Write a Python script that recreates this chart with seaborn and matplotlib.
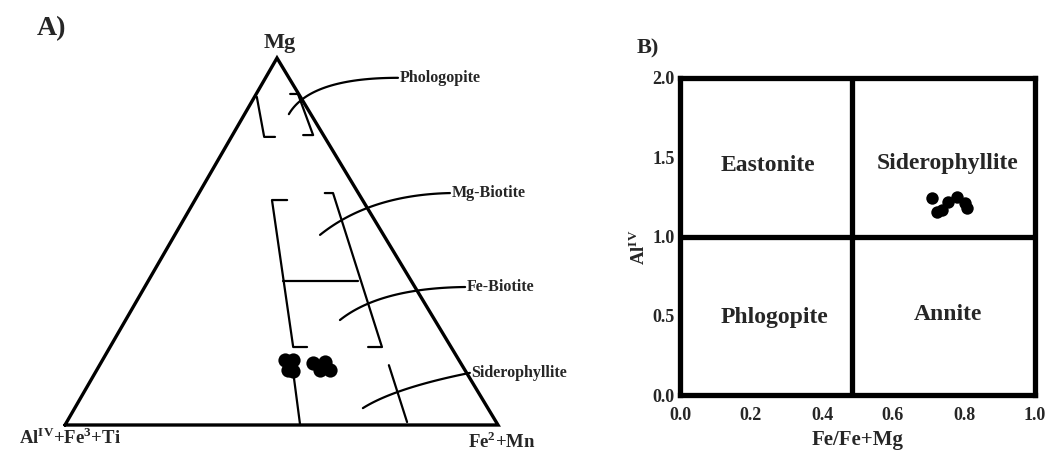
import numpy as np
import pandas as pd
import seaborn as sns
import matplotlib
import matplotlib.pyplot as plt
plt.switch_backend('Agg')

sns.set_style("white")
matplotlib.rcParams['font.family'] = ['Liberation Serif', 'DejaVu Serif']
matplotlib.rcParams['font.weight'] = "bold"
matplotlib.rcParams['mathtext.fontset'] = "custom"
matplotlib.rcParams['mathtext.rm'] = "Liberation Serif:bold"
matplotlib.rcParams['mathtext.bf'] = "Liberation Serif:bold"

# ---- data: A) ternary Mg - (AlIV+Fe3+Ti) - (Fe2+Mn), molar fractions
tern_mg = [0.177, 0.177, 0.150, 0.147, 0.169, 0.172, 0.150, 0.150]
tern_fe = [0.421, 0.440, 0.442, 0.455, 0.490, 0.516, 0.539, 0.516]

# ---- data: B) Fe/(Fe+Mg) vs AlIV
b_femg = [0.710, 0.724, 0.738, 0.755, 0.780, 0.803, 0.808]
b_al4 = [1.243, 1.155, 1.167, 1.218, 1.249, 1.211, 1.180]

b_fields = ["Eastonite", "Siderophyllite", "Phlogopite", "Annite"]
b_xticks = [0.0, 0.2, 0.4, 0.6, 0.8, 1.0]
b_yticks = [0.0, 0.5, 1.0, 1.5, 2.0]

APEX = 0.4896  # horizontal position of the Mg corner along the base


def tern2xy(mg, fe):
    mg = np.asarray(mg)
    fe = np.asarray(fe)
    return fe + APEX * mg, mg


def bezier(p0, p1, p2, n=40):
    t = np.linspace(0, 1, n)[:, None]
    p0, p1, p2 = map(np.array, (p0, p1, p2))
    pts = (1 - t) ** 2 * p0 + 2 * (1 - t) * t * p1 + t ** 2 * p2
    return pts[:, 0], pts[:, 1]


fig = plt.figure(figsize=(10.46, 4.5), dpi=100)

# ================= panel A =================
axa = fig.add_axes([0, 0, 600 / 1046, 1])
axa.set_xlim(-65 / 433, 535 / 433)
axa.set_ylim(-25 / 367, 425 / 367)
axa.axis("off")

tri = np.array([[0, 0], [1, 0], [APEX, 1], [0, 0]])
axa.plot(tri[:, 0], tri[:, 1], color="black", lw=2.4, solid_joinstyle="miter")

# field boundaries (drawn in the triangle frame)
field_lines = [
    [(0.443, 0.894), (0.460, 0.785), (0.485, 0.785)],
    [(0.520, 0.902), (0.538, 0.902), (0.573, 0.790), (0.550, 0.790)],
    [(0.513, 0.613), (0.478, 0.613), (0.527, 0.2125), (0.559, 0.2125)],
    [(0.503, 0.392), (0.677, 0.392)],
    [(0.600, 0.632), (0.619, 0.632), (0.732, 0.2125), (0.700, 0.2125)],
    [(0.748, 0.163), (0.790, 0.008)],
    [(0.527, 0.144), (0.543, 0.0)],
]
for seg in field_lines:
    seg = np.array(seg)
    axa.plot(seg[:, 0], seg[:, 1], color="black", lw=1.6)

leaders = [
    ((0.517, 0.847), (0.566, 0.946), (0.769, 0.946), "Phologopite"),
    ((0.589, 0.518), (0.704, 0.627), (0.889, 0.632), "Mg-Biotite"),
    ((0.635, 0.286), (0.7275, 0.373), (0.924, 0.376), "Fe-Biotite"),
    ((0.688, 0.046), (0.762, 0.101), (0.935, 0.142), "Siderophyllite"),
]
for p0, p1, p2, name in leaders:
    bx, by = bezier(p0, p1, p2)
    axa.plot(bx, by, color="black", lw=1.6)
    axa.text(p2[0] + 0.003, p2[1], name, ha="left", va="center",
             fontsize=11.5, fontweight="bold")

ax_x, ax_y = tern2xy(tern_mg, tern_fe)
sns.scatterplot(x=ax_x, y=ax_y, ax=axa, color="black", s=105,
                edgecolor="black", linewidth=0, legend=False, zorder=5)

axa.text(APEX + 0.007, 1.041, "Mg", ha="center", va="center",
         fontsize=16, fontweight="bold")
axa.text(0.012, -0.035, r"Al$^{\mathbf{IV}}$+Fe$^{\mathbf{3}}$+Ti",
         ha="center", va="center", fontsize=13.5, fontweight="bold")
axa.text(1.009, -0.044, r"Fe$^{\mathbf{2}}$+Mn", ha="center", va="center",
         fontsize=13.5, fontweight="bold")

fig.text(37 / 1046, 1 - 29 / 450, "A)", ha="left", va="center",
         fontsize=20, fontweight="bold")

# ================= panel B =================
axb = fig.add_axes([680 / 1046, 55 / 450, 355 / 1046, 317 / 450])
axb.set_xlim(0, 1)
axb.set_ylim(0, 2)
for sp in axb.spines.values():
    sp.set_linewidth(3.8)
    sp.set_color("black")
axb.axvline(0.485, color="black", lw=3.8)
axb.axhline(1.0, color="black", lw=3.8)

sns.scatterplot(x=b_femg, y=b_al4, ax=axb, color="black", s=80,
                edgecolor="black", linewidth=0, legend=False, zorder=5)

field_pos = [(0.248, 1.45), (0.755, 1.46), (0.265, 0.49), (0.755, 0.51)]
for name, (fx, fy) in zip(b_fields, field_pos):
    axb.text(fx, fy, name, ha="center", va="center", fontsize=17,
             fontweight="bold")

axb.set_xticks(b_xticks)
axb.set_yticks(b_yticks)
axb.set_xticklabels(["%.1f" % v for v in b_xticks])
axb.set_yticklabels(["%.1f" % v for v in b_yticks])
axb.tick_params(axis="both", which="major", direction="out", length=2,
                width=1.5, labelsize=13, color="black")
axb.tick_params(axis="x", pad=7)
axb.tick_params(axis="y", pad=2)
for lab in axb.get_xticklabels() + axb.get_yticklabels():
    lab.set_fontweight("bold")
axb.set_xlabel("Fe/Fe+Mg", fontsize=15, fontweight="bold", labelpad=4)
axb.set_ylabel(r"Al$^{\mathbf{IV}}$", fontsize=13.5, fontweight="bold")
axb.yaxis.set_label_coords(-0.088, 0.465)

fig.text(637 / 1046, 1 - 48 / 450, "B)", ha="left", va="center",
         fontsize=16, fontweight="bold")

plt.savefig("out.png", dpi=100)
